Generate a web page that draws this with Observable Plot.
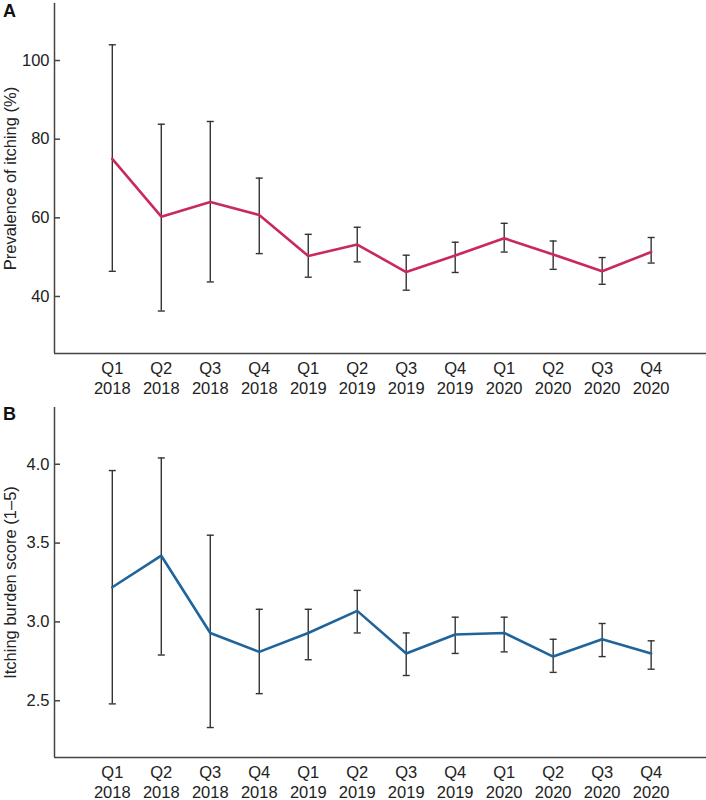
<!DOCTYPE html>
<html>
<head>
<meta charset="utf-8">
<script src="https://cdn.jsdelivr.net/npm/d3@7"></script>
<script src="https://cdn.jsdelivr.net/npm/@observablehq/plot@0.6"></script>
<style>
  html, body { margin: 0; padding: 0; background: #fff; }
  #chart { width: 706px; }
  #chart svg { display: block; }
</style>
</head>
<body>
<div id="chart"></div>
<script>
// Categories (x tick labels)
const quarters = ["Q1\n2018", "Q2\n2018", "Q3\n2018", "Q4\n2018",
                  "Q1\n2019", "Q2\n2019", "Q3\n2019", "Q4\n2019",
                  "Q1\n2020", "Q2\n2020", "Q3\n2020", "Q4\n2020"];

// Panel A: prevalence of itching (%)
const prevMean = [75.0, 60.3, 64.0, 60.7, 50.3, 53.2, 46.2, 50.4, 54.8, 50.7, 46.4, 51.3];
const prevLo   = [46.4, 36.3, 43.7, 50.9, 44.9, 48.8, 41.6, 46.1, 51.3, 46.9, 43.1, 48.5];
const prevHi   = [104.0, 83.8, 84.5, 70.1, 55.8, 57.6, 50.5, 53.8, 58.6, 54.1, 49.9, 55.0];
const prevTicks = [40, 60, 80, 100];

// Panel B: itching burden score (1–5)
const burdMean = [3.22, 3.42, 2.93, 2.81, 2.93, 3.07, 2.80, 2.92, 2.93, 2.78, 2.89, 2.80];
const burdLo   = [2.48, 2.79, 2.33, 2.545, 2.76, 2.93, 2.66, 2.80, 2.81, 2.68, 2.78, 2.70];
const burdHi   = [3.96, 4.04, 3.55, 3.08, 3.08, 3.20, 2.93, 3.03, 3.03, 2.89, 2.99, 2.88];
const burdTicks = [2.5, 3.0, 3.5, 4.0];

const FONT = "'Liberation Sans', Arial, Helvetica, sans-serif";
const FS = 16.5;
const AXIS = "#444";
const BAR = "#333";
const TXT = "#222";
const xIdx = quarters.map((q, i) => i);
const xDomain = [-1.18, 12.13];

function panel({letter, label, mean, lo, hi, ticks, yDomain, color, height, marginTop, marginBottom, fmt, letterDy}) {
  const rows = quarters.map((q, i) => ({i, q, mean: mean[i], lo: lo[i], hi: hi[i]}));
  const capW = 0.072;
  return Plot.plot({
    width: 706,
    height,
    marginLeft: 54,
    marginRight: 0,
    marginTop,
    marginBottom,
    style: {fontFamily: FONT, fontSize: FS + "px", color: TXT, background: "#fff", overflow: "visible"},
    x: {type: "linear", domain: xDomain, axis: null},
    y: {type: "linear", domain: yDomain, axis: null},
    marks: [
      // axis lines
      Plot.ruleX([xDomain[0]], {stroke: AXIS, strokeWidth: 1.5}),
      Plot.ruleY([yDomain[0]], {stroke: AXIS, strokeWidth: 1.5}),
      // inward y ticks
      Plot.axisY({ticks, tickSize: -6, fill: "none", label: null, stroke: AXIS, strokeWidth: 1.5}),
      // y tick labels
      Plot.text(ticks, {y: d => d, text: d => fmt(d), frameAnchor: "left", dx: -5, textAnchor: "end", fontSize: FS, fill: TXT}),
      // x tick labels
      Plot.text(xIdx, {x: d => d, text: d => quarters[d], frameAnchor: "bottom", lineAnchor: "top", dy: 7, lineHeight: 1.18, fontSize: FS, fill: TXT}),
      // error bars
      Plot.ruleX(rows, {x: "i", y1: "lo", y2: "hi", stroke: BAR, strokeWidth: 1.4}),
      Plot.link(rows, {x1: d => d.i - capW, x2: d => d.i + capW, y1: "hi", y2: "hi", stroke: BAR, strokeWidth: 1.4}),
      Plot.link(rows, {x1: d => d.i - capW, x2: d => d.i + capW, y1: "lo", y2: "lo", stroke: BAR, strokeWidth: 1.4}),
      // mean line
      Plot.line(rows, {x: "i", y: "mean", stroke: color, strokeWidth: 2.6, strokeLinejoin: "miter"}),
      // y-axis title
      Plot.text([label], {frameAnchor: "left", dx: -44, rotate: -90, textAnchor: "middle", lineAnchor: "middle", fontSize: FS, fill: TXT, text: d => d}),
      // panel letter
      Plot.text([letter], {frameAnchor: "top-left", dx: -45, dy: letterDy, fontSize: 18, fontWeight: "bold", fill: "#111", text: d => d, lineAnchor: "middle", textAnchor: "middle"})
    ]
  });
}

const chart = document.getElementById("chart");
chart.appendChild(panel({
  letter: "A", label: "Prevalence of itching (%)",
  mean: prevMean, lo: prevLo, hi: prevHi, ticks: prevTicks,
  yDomain: [25.5, 114.5], color: "#C8295E",
  height: 395, marginTop: 3, marginBottom: 42, fmt: d3.format("d"), letterDy: 7.5
}));
chart.appendChild(panel({
  letter: "B", label: "Itching burden score (1–5)",
  mean: burdMean, lo: burdLo, hi: burdHi, ticks: burdTicks,
  yDomain: [2.14, 4.36], color: "#1F649A",
  height: 405, marginTop: 12, marginBottom: 43, fmt: d3.format(".1f"), letterDy: 7
}));
</script>
</body>
</html>
